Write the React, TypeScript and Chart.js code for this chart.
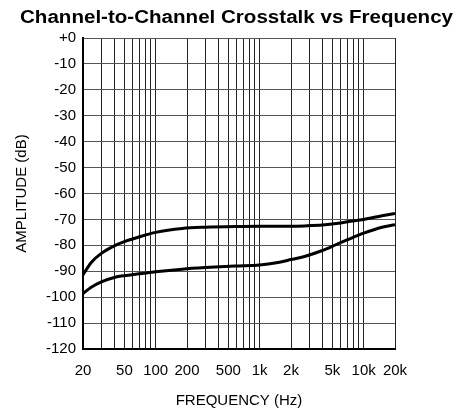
import React, { useEffect, useRef } from "react";
import { Chart, registerables } from "chart.js";

Chart.register(...registerables);

const titleText = "Channel-to-Channel Crosstalk vs Frequency";

const frequencies = [20, 24, 30, 40, 50, 70, 100, 180, 300, 580, 1000, 1500, 2000, 2700, 4000, 5700, 7000, 10000, 15000, 20000];
const upperCrosstalk = [-91.4, -86.6, -83.1, -80.2, -78.6, -76.7, -75.0, -73.5, -73.0, -72.7, -72.6, -72.6, -72.6, -72.5, -72.2, -71.5, -70.9, -70.0, -68.6, -67.7];
const lowerCrosstalk = [-98.6, -96.2, -94.1, -92.4, -91.7, -91.0, -90.2, -89.2, -88.6, -88.0, -87.6, -86.6, -85.5, -84.3, -82.0, -79.3, -77.8, -75.3, -73.0, -72.0];

const gridFrequencies = [20, 30, 40, 50, 60, 70, 80, 90, 100, 200, 300, 400, 500, 600, 700, 800, 900, 1000, 2000, 3000, 4000, 5000, 6000, 7000, 8000, 9000, 10000, 20000];
const labeledFrequencies = [20, 50, 100, 200, 500, 1000, 2000, 5000, 10000, 20000];
const labelText = ["20", "50", "100", "200", "500", "1k", "2k", "5k", "10k", "20k"];

const FONT = "'Liberation Sans', Arial, sans-serif";

const stretchedTitle = {
  id: "stretchedTitle",
  afterDraw(chart: any) {
    const ctx = chart.ctx as CanvasRenderingContext2D;
    ctx.save();
    ctx.font = `bold 17.5px ${FONT}`;
    ctx.fillStyle = "#000";
    ctx.textBaseline = "alphabetic";
    ctx.textAlign = "center";
    const w = ctx.measureText(titleText).width;
    const sx = 433 / w;
    ctx.translate(236.5, 22.7);
    ctx.scale(sx, 1);
    ctx.fillText(titleText, 0, 0);
    ctx.restore();
  },
};

export default function App() {
  const ref = useRef<HTMLCanvasElement | null>(null);

  useEffect(() => {
    if (!ref.current) return;
    const chart = new Chart(ref.current, {
      type: "line",
      data: {
        datasets: [
          {
            label: "A",
            data: frequencies.map((f, i) => ({ x: f, y: upperCrosstalk[i] })),
            borderColor: "#000",
            borderWidth: 3,
            pointRadius: 0,
            cubicInterpolationMode: "monotone",
            fill: false,
          },
          {
            label: "B",
            data: frequencies.map((f, i) => ({ x: f, y: lowerCrosstalk[i] })),
            borderColor: "#000",
            borderWidth: 3,
            pointRadius: 0,
            cubicInterpolationMode: "monotone",
            fill: false,
          },
        ],
      },
      plugins: [stretchedTitle],
      options: {
        responsive: false,
        animation: false,
        layout: { padding: { left: 0, right: 78, top: 38, bottom: 0 } },
        plugins: {
          legend: { display: false },
          tooltip: { enabled: false },
          title: { display: false },
        },
        scales: {
          x: {
            type: "logarithmic",
            min: 20,
            max: 20000,
            afterBuildTicks: (scale: any) => {
              scale.ticks = gridFrequencies.map((v) => ({ value: v }));
            },
            afterFit: (scale: any) => {
              scale.height = 64;
            },
            ticks: {
              autoSkip: false,
              maxRotation: 0,
              padding: 13,
              color: "#000",
              font: { family: FONT, size: 15 },
              callback: (value: any) => {
                const idx = labeledFrequencies.indexOf(Number(value));
                return idx >= 0 ? labelText[idx] : "";
              },
            },
            grid: { color: "#222", lineWidth: 1, drawTicks: false },
            border: { color: "#000", width: 2 },
            title: {
              display: true,
              text: "FREQUENCY (Hz)",
              color: "#000",
              font: { family: FONT, size: 15 },
              padding: { top: 0, bottom: 3 },
            },
          },
          y: {
            type: "linear",
            min: -120,
            max: 0,
            afterFit: (scale: any) => {
              scale.width = 83;
            },
            ticks: {
              stepSize: 10,
              padding: 7,
              color: "#000",
              font: { family: FONT, size: 15 },
              callback: (value: any) => (Number(value) === 0 ? "+0" : String(value)),
            },
            grid: { color: "#555", lineWidth: 1, drawTicks: false },
            border: { color: "#000", width: 2 },
            title: {
              display: true,
              text: "AMPLITUDE (dB)",
              color: "#000",
              font: { family: FONT, size: 15 },
              padding: { top: 13, bottom: 0 },
            },
          },
        },
      },
    });
    return () => chart.destroy();
  }, []);

  return (
    <div style={{ position: "fixed", left: 0, top: 0, width: 473, height: 413, background: "#fff" }}>
      <canvas ref={ref} width={473} height={413} style={{ width: 473, height: 413 }} />
    </div>
  );
}
